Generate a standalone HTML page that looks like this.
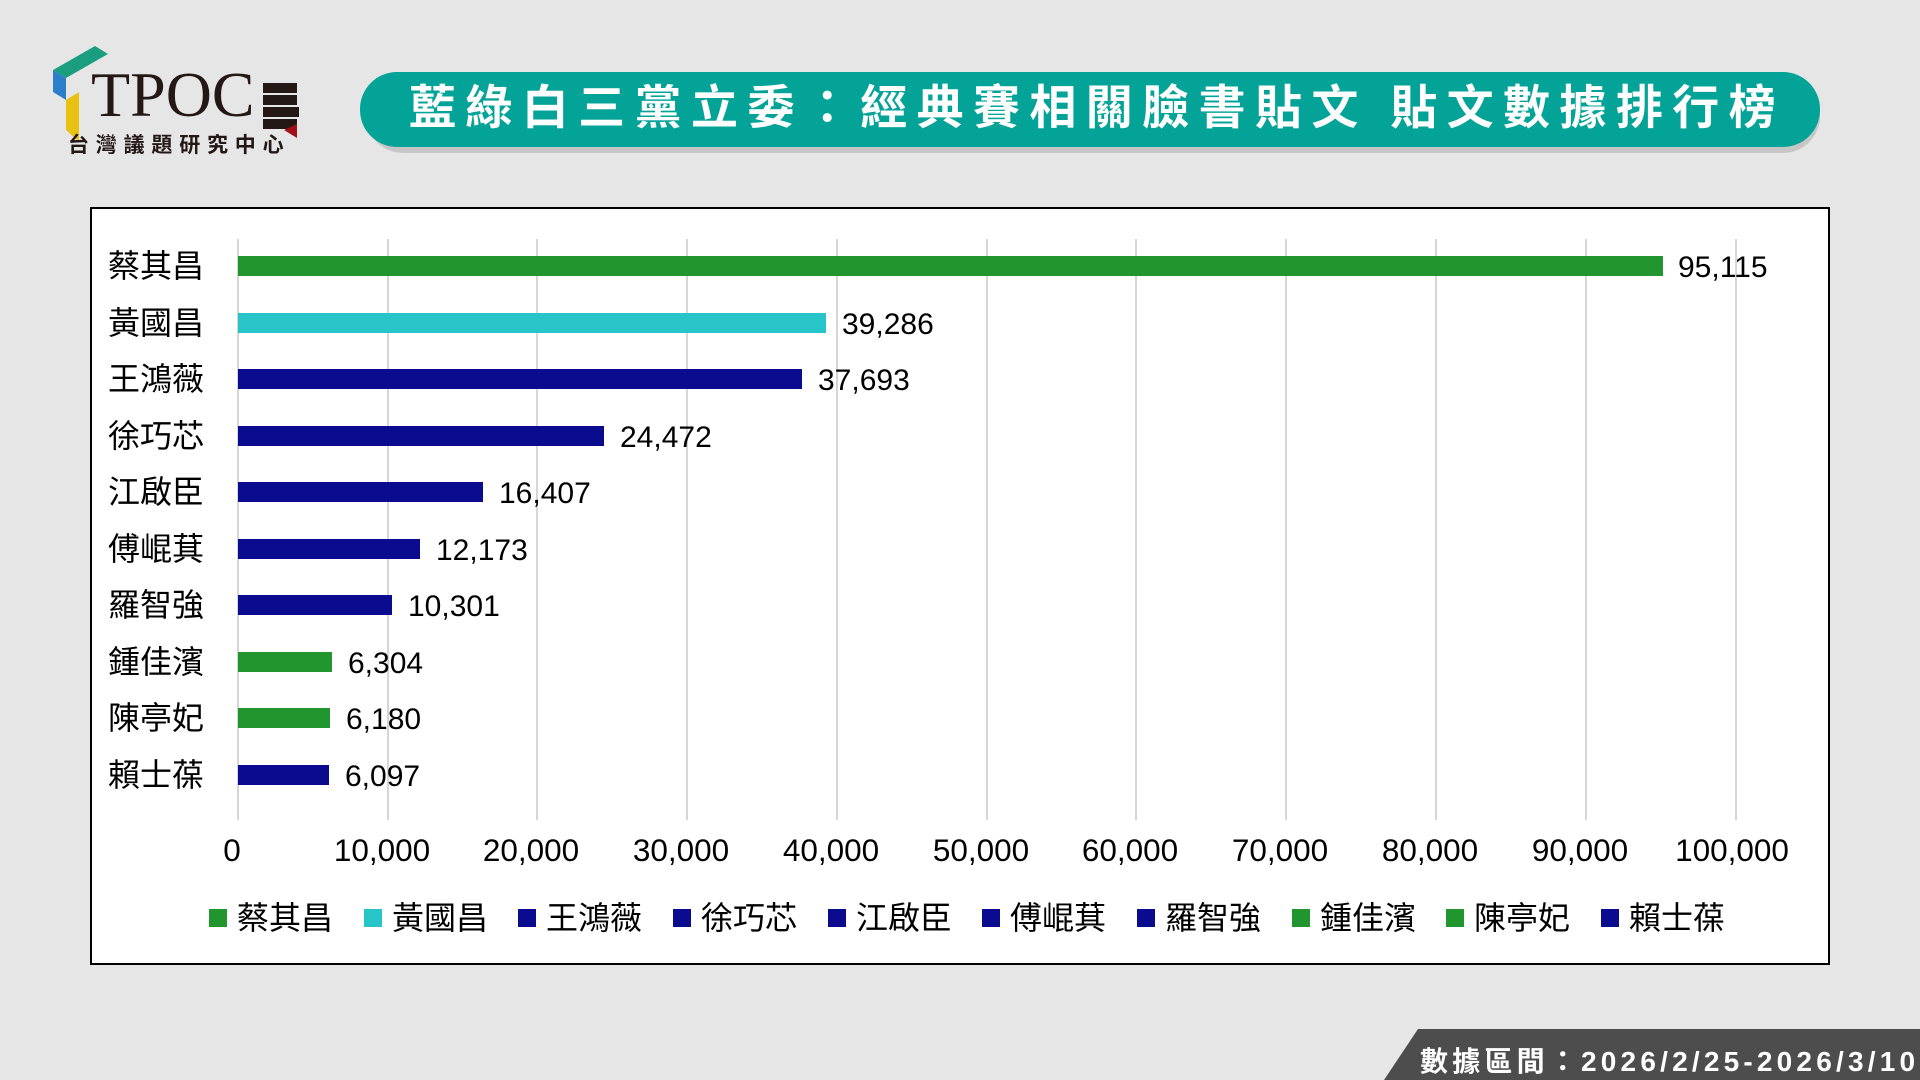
<!DOCTYPE html>
<html><head><meta charset="utf-8"><style>
html,body{margin:0;padding:0;width:1920px;height:1080px;overflow:hidden;background:#e6e6e6}
svg{display:block}
</style></head><body>
<svg width="1920" height="1080" xmlns="http://www.w3.org/2000/svg">
<rect width="1920" height="1080" fill="#e6e6e6"/>
<!-- logo -->
<polygon points="53,70 95,46 108,54 66,78" fill="#1b9e7f"/>
<polygon points="53,70 66,78 66,100 53,92" fill="#2b7fc9"/>
<polygon points="66,100 79,92 79,142 66,130" fill="#e8c210"/>
<text x="91" y="116" font-family="Liberation Serif, serif" font-size="64" fill="#231815">TPOC</text>
<rect x="263" y="83" width="34" height="10" fill="#231815"/><rect x="263" y="95" width="34" height="10" fill="#231815"/><rect x="263" y="107" width="36" height="10" fill="#231815"/><rect x="263" y="119" width="34" height="10" fill="#231815"/>
<polygon points="284,130 297,124 297,138" fill="#a0101a"/>
<text x="68" y="152" font-family="Liberation Sans, Noto Sans CJK TC, sans-serif" font-size="21" font-weight="bold" letter-spacing="6.8" fill="#231815">台灣議題研究中心</text>
<!-- title pill -->
<rect x="366" y="78" width="1454" height="75" rx="37" fill="#8a8a8a" opacity="0.35"/>
<rect x="360" y="72" width="1460" height="75" rx="37" fill="#03a398"/>
<text x="1097" y="124" text-anchor="middle" font-family="Liberation Sans, Noto Sans CJK TC, sans-serif" font-size="47" font-weight="bold" letter-spacing="9.4" fill="#fff">藍綠白三黨立委：經典賽相關臉書貼文 貼文數據排行榜</text>
<!-- chart box -->
<rect x="91" y="208" width="1738" height="756" fill="#fff" stroke="#000" stroke-width="2"/>
<g stroke="#d6d6d6" stroke-width="2">
<line x1="238" y1="239" x2="238" y2="820"/><line x1="388" y1="239" x2="388" y2="820"/><line x1="537" y1="239" x2="537" y2="820"/><line x1="687" y1="239" x2="687" y2="820"/><line x1="837" y1="239" x2="837" y2="820"/><line x1="987" y1="239" x2="987" y2="820"/><line x1="1136" y1="239" x2="1136" y2="820"/><line x1="1286" y1="239" x2="1286" y2="820"/><line x1="1436" y1="239" x2="1436" y2="820"/><line x1="1586" y1="239" x2="1586" y2="820"/><line x1="1736" y1="239" x2="1736" y2="820"/>
</g>
<g font-family="Liberation Sans, Noto Sans CJK TC, sans-serif" font-size="30" fill="#000">
<rect x="238" y="256" width="1425" height="20" fill="#21962e"/><text x="1678" y="277">95,115</text>
<rect x="238" y="313" width="588" height="20" fill="#27c5c8"/><text x="842" y="334">39,286</text>
<rect x="238" y="369" width="564" height="20" fill="#0b0b8f"/><text x="818" y="390">37,693</text>
<rect x="238" y="426" width="366" height="20" fill="#0b0b8f"/><text x="620" y="447">24,472</text>
<rect x="238" y="482" width="245" height="20" fill="#0b0b8f"/><text x="499" y="503">16,407</text>
<rect x="238" y="539" width="182" height="20" fill="#0b0b8f"/><text x="436" y="560">12,173</text>
<rect x="238" y="595" width="154" height="20" fill="#0b0b8f"/><text x="408" y="616">10,301</text>
<rect x="238" y="652" width="94" height="20" fill="#21962e"/><text x="348" y="673">6,304</text>
<rect x="238" y="708" width="92" height="20" fill="#21962e"/><text x="346" y="729">6,180</text>
<rect x="238" y="765" width="91" height="20" fill="#0b0b8f"/><text x="345" y="786">6,097</text>
</g>
<g font-family="Liberation Sans, Noto Sans CJK TC, sans-serif" font-size="32" fill="#000">
<text x="108" y="277">蔡其昌</text><text x="108" y="334">黃國昌</text><text x="108" y="390">王鴻薇</text><text x="108" y="447">徐巧芯</text><text x="108" y="503">江啟臣</text><text x="108" y="560">傅崐萁</text><text x="108" y="616">羅智強</text><text x="108" y="673">鍾佳濱</text><text x="108" y="729">陳亭妃</text><text x="108" y="786">賴士葆</text>
</g>
<g font-family="Liberation Sans, sans-serif" font-size="31.5" fill="#000" text-anchor="middle">
<text x="232" y="861">0</text><text x="382" y="861">10,000</text><text x="531" y="861">20,000</text><text x="681" y="861">30,000</text><text x="831" y="861">40,000</text><text x="981" y="861">50,000</text><text x="1130" y="861">60,000</text><text x="1280" y="861">70,000</text><text x="1430" y="861">80,000</text><text x="1580" y="861">90,000</text><text x="1732" y="861">100,000</text>
</g>
<g font-family="Liberation Sans, Noto Sans CJK TC, sans-serif" font-size="32" fill="#000">
<rect x="209" y="909" width="18" height="18" fill="#21962e"/><text x="237" y="929">蔡其昌</text>
<rect x="364" y="909" width="18" height="18" fill="#27c5c8"/><text x="392" y="929">黃國昌</text>
<rect x="518" y="909" width="18" height="18" fill="#0b0b8f"/><text x="546" y="929">王鴻薇</text>
<rect x="673" y="909" width="18" height="18" fill="#0b0b8f"/><text x="701" y="929">徐巧芯</text>
<rect x="828" y="909" width="18" height="18" fill="#0b0b8f"/><text x="856" y="929">江啟臣</text>
<rect x="982" y="909" width="18" height="18" fill="#0b0b8f"/><text x="1010" y="929">傅崐萁</text>
<rect x="1137" y="909" width="18" height="18" fill="#0b0b8f"/><text x="1165" y="929">羅智強</text>
<rect x="1292" y="909" width="18" height="18" fill="#21962e"/><text x="1320" y="929">鍾佳濱</text>
<rect x="1446" y="909" width="18" height="18" fill="#21962e"/><text x="1474" y="929">陳亭妃</text>
<rect x="1601" y="909" width="18" height="18" fill="#0b0b8f"/><text x="1629" y="929">賴士葆</text>
</g>
<!-- footer -->
<polygon points="1418,1029 1920,1029 1920,1080 1384,1080" fill="#4d4d4d"/>
<text x="1420" y="1071" font-family="Liberation Sans, Noto Sans CJK TC, sans-serif" font-size="28" font-weight="bold" letter-spacing="4.2" fill="#fff">數據區間：2026/2/25-2026/3/10</text>
</svg>
</body></html>
